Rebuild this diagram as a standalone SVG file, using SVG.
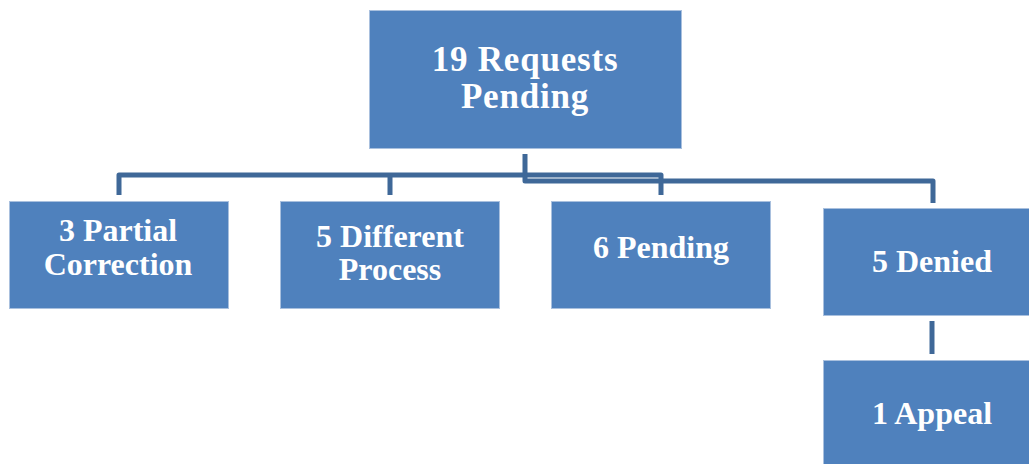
<svg xmlns="http://www.w3.org/2000/svg" width="1029" height="464" viewBox="0 0 1029 464">
  <style>
    .box { fill: #4f81bd; stroke: #a9c0de; stroke-width: 1; }
    .lbl { fill: #ffffff; font-family: "Liberation Serif", "Times New Roman", serif; font-weight: bold; text-anchor: middle; }
    .big { font-size: 35px; letter-spacing: 0.8px; }
    .sm { font-size: 32px; }
    .wire { fill: none; stroke: #3f6898; stroke-width: 5; stroke-linejoin: round; }
  </style>
  <rect width="1029" height="464" fill="#ffffff"/>

  <g id="connectors">
    <!-- upper bus: left children and the centre-right child -->
    <path class="wire" d="M119,195 V175 H390 M390,195 V175 H661 V195"/>
    <!-- lower bus from the root to the rightmost child -->
    <path class="wire" d="M525,154 V181 H933 V203"/>
    <!-- Denied to Appeal -->
    <path class="wire" d="M932,321 V354"/>
  </g>

  <g id="root">
    <rect class="box" x="369.5" y="10.5" width="312" height="138"/>
    <text class="lbl big" x="525" y="71">19 Requests<tspan x="525" dy="37">Pending</tspan></text>
  </g>

  <g id="partial">
    <rect class="box" x="9.5" y="201.5" width="219" height="107"/>
    <text class="lbl sm" x="118" y="241">3 Partial<tspan x="118" dy="34">Correction</tspan></text>
  </g>

  <g id="different">
    <rect class="box" x="280.5" y="201.5" width="219" height="107"/>
    <text class="lbl sm" x="390" y="247">5 Different<tspan x="390" dy="33">Process</tspan></text>
  </g>

  <g id="pending">
    <rect class="box" x="551.5" y="201.5" width="219" height="107"/>
    <text class="lbl sm" x="661" y="258">6 Pending</text>
  </g>

  <g id="denied">
    <rect class="box" x="823.5" y="208.5" width="219" height="107"/>
    <text class="lbl sm" x="932" y="272">5 Denied</text>
  </g>

  <g id="appeal">
    <rect class="box" x="823.5" y="360.5" width="219" height="107"/>
    <text class="lbl sm" x="932" y="424">1 Appeal</text>
  </g>
</svg>
